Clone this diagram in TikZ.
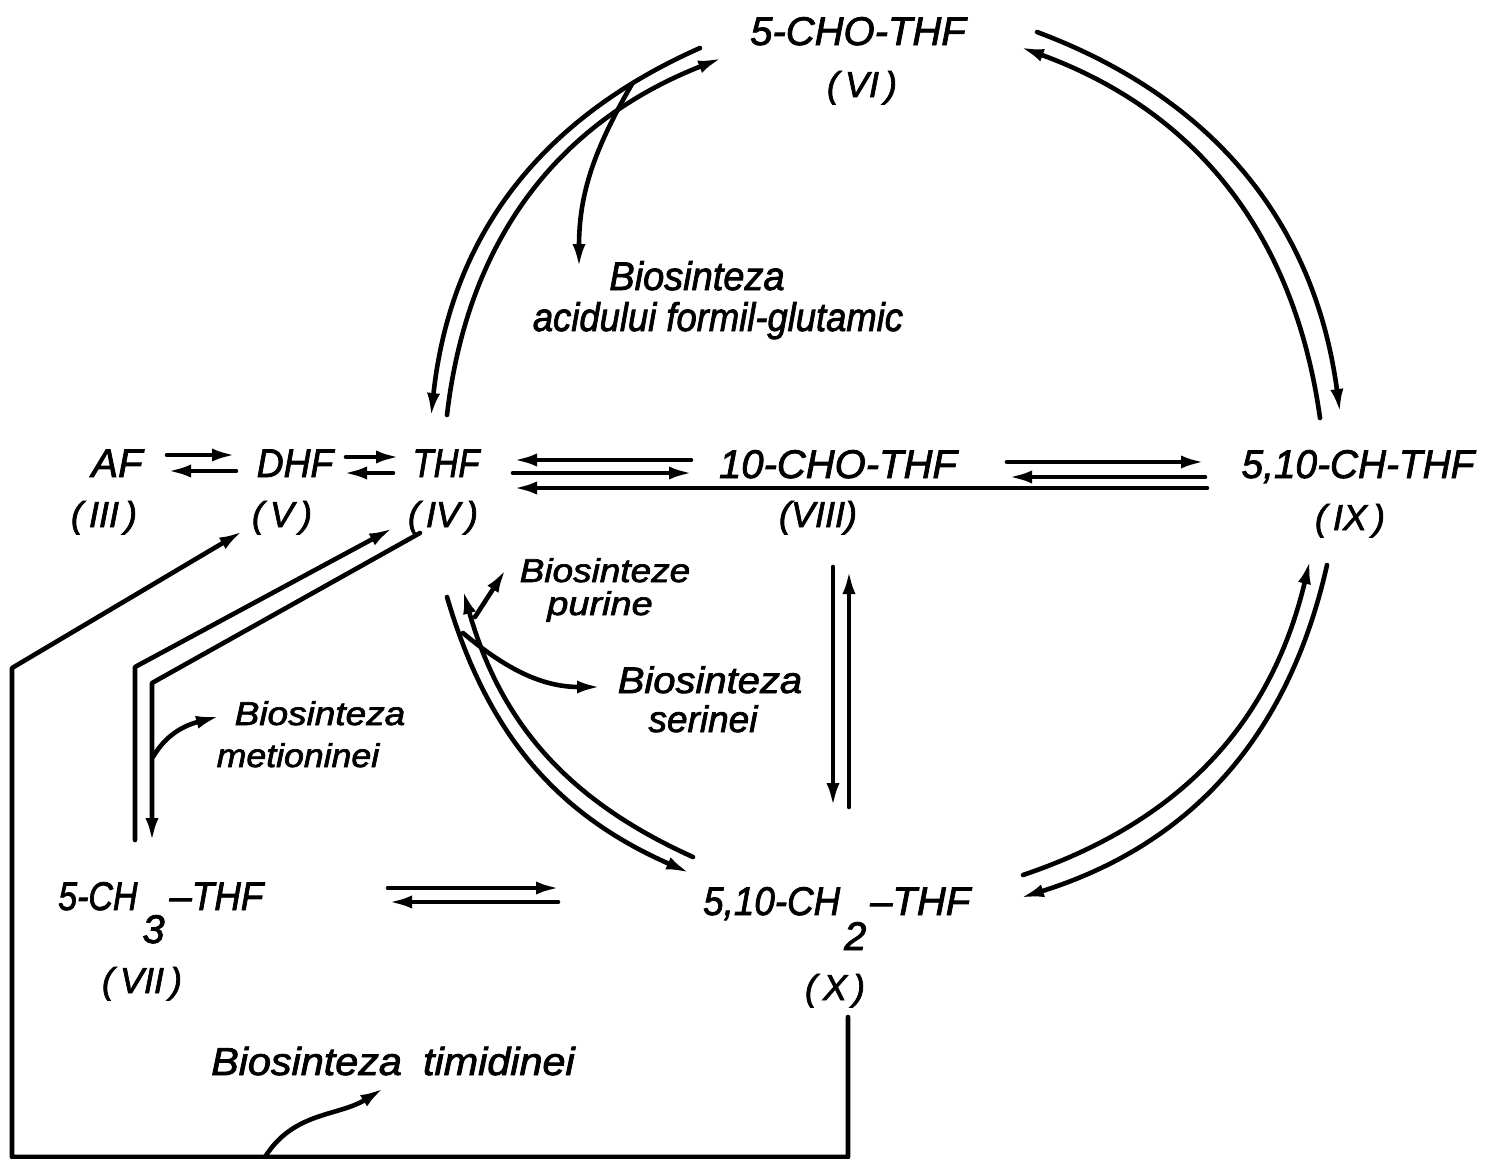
\documentclass[tikz,border=0pt]{standalone}
\usepackage{fontspec}
\usepackage{graphicx}
\setmainfont{Liberation Sans}[ItalicFeatures={FakeBold=2}]
\usetikzlibrary{arrows.meta}
\newcommand\sqz[2]{\scalebox{#1}[1]{#2}}
\begin{document}
\begin{tikzpicture}[x=1pt,y=-1pt,
  ln/.style={line width=4.6pt, line cap=round, line join=round},
  arr/.style={ln, -{Latex[length=24pt,width=13pt]}},
  big/.style={font=\fontsize{40}{44}\selectfont\itshape, inner sep=0pt, anchor=base},
  num/.style={font=\fontsize{36}{40}\selectfont\itshape, inner sep=0pt, anchor=base},
  note/.style={inner sep=0pt, anchor=base}]
\useasboundingbox[fill=white] (0,0) rectangle (1502,1159);

% ---------- compound labels ----------
\node[big] (choTHF) at (858,45) {5-CHO-THF};
\node[num] (nVI) at (862,97) {(\,VI\,)};
\node[big] (AF) at (117,477) {AF};
\node[num] (nIII) at (104,527) {(\,III\,)};
\node[big] (DHF) at (295,477) {\sqz{0.93}{DHF}};
\node[num] (nV) at (282,527) {(\,V\,)};
\node[big] (THF) at (446,477) {\sqz{0.86}{THF}};
\node[num] (nIV) at (443,527) {(\,IV\,)};
\node[big] (tenCHO) at (838,478) {10-CHO-THF};
\node[num] (nVIII) at (818,527) {(VIII)};
\node[big] (chTHF) at (1358,478) {\sqz{0.97}{5,10-CH-THF}};
\node[num] (nIX) at (1350,530) {(\,IX\,)};
\node[big, anchor=base west] (methyl) at (58,910)
  {\sqz{0.85}{5-CH}\makebox[32pt]{\raisebox{-33pt}{3}}–\sqz{0.92}{THF}};
\node[num] (nVII) at (142,993) {(\,VII\,)};
\node[big, anchor=base west] (methylene) at (703,915)
  {\sqz{0.92}{5,10-CH}\makebox[30pt]{\raisebox{-35pt}{2}}–THF};
\node[num] (nX) at (835,1000) {(\,X\,)};

% ---------- pathway notes ----------
\node[note, font=\fontsize{40}{44}\selectfont\itshape] (formA) at (697,290) {\sqz{0.95}{Biosinteza}};
\node[note, font=\fontsize{40}{44}\selectfont\itshape] (formB) at (718,331) {\sqz{0.91}{acidului formil-glutamic}};
\node[note, font=\fontsize{33}{36}\selectfont\itshape] (purA) at (605,582) {\sqz{1.12}{Biosinteze}};
\node[note, font=\fontsize{33}{36}\selectfont\itshape] (purB) at (600,615) {\sqz{1.15}{purine}};
\node[note, font=\fontsize{37}{40}\selectfont\itshape] (serA) at (710,693) {\sqz{1.08}{Biosinteza}};
\node[note, font=\fontsize{37}{40}\selectfont\itshape] (serB) at (703,732) {serinei};
\node[note, font=\fontsize{33}{36}\selectfont\itshape] (metA) at (320,725) {\sqz{1.12}{Biosinteza}};
\node[note, font=\fontsize{33}{36}\selectfont\itshape] (metB) at (298,767) {\sqz{1.08}{metioninei}};
\node[note, font=\fontsize{39}{42}\selectfont\itshape] (timA) at (393,1075) {\sqz{1.06}{Biosinteza\hspace{20pt}timidinei}};

% ---------- horizontal equilibria ----------
\coordinate (a1) at (167,455); \coordinate (a2) at (236,455);
\coordinate (a3) at (236,471); \coordinate (a4) at (167,471);
\draw[arr] (a1) -- (a2);
\draw[arr] (a3) -- (a4);
\coordinate (b1) at (346,457); \coordinate (b2) at (400,457);
\coordinate (b3) at (393,473); \coordinate (b4) at (343,473);
\draw[arr] (b1) -- (b2);
\draw[arr] (b3) -- (b4);
\coordinate (c1) at (691,460); \coordinate (c2) at (513,460);
\coordinate (c3) at (513,473); \coordinate (c4) at (693,473);
\coordinate (c5) at (1207,488); \coordinate (c6) at (513,488);
\draw[arr] (c1) -- (c2);
\draw[arr] (c3) -- (c4);
\draw[arr] (c5) -- (c6);
\coordinate (d1) at (1007,462); \coordinate (d2) at (1205,462);
\coordinate (d3) at (1205,477); \coordinate (d4) at (1008,477);
\draw[arr] (d1) -- (d2);
\draw[arr] (d3) -- (d4);
\coordinate (e1) at (388,888); \coordinate (e2) at (560,888);
\coordinate (e3) at (558,902); \coordinate (e4) at (388,902);
\draw[arr] (e1) -- (e2);
\draw[arr] (e3) -- (e4);

% ---------- vertical equilibrium ----------
\coordinate (v1) at (833,567); \coordinate (v2) at (833,807);
\coordinate (v3) at (849,807); \coordinate (v4) at (849,570);
\draw[arr] (v1) -- (v2);
\draw[arr] (v3) -- (v4);

% ---------- circle arcs ----------
% top left: 5-CHO-THF <-> THF
\coordinate (tl1) at (700,48);  \coordinate (tl2) at (431,417);
\coordinate (tl3) at (447,415); \coordinate (tl4) at (722,58);
\draw[arr] (tl1) to[bend right=30] (tl2);
\draw[arr] (tl3) to[bend left=31] (tl4);
% branch to formil-glutamic
\coordinate (fb1) at (632,84); \coordinate (fb2) at (579,268);
\draw[arr] (fb1) to[out=-120,in=90] (fb2);
% top right: 5-CHO-THF <-> 5,10-CH-THF
\coordinate (tr1) at (1037,32);  \coordinate (tr2) at (1340,413);
\coordinate (tr3) at (1320,418); \coordinate (tr4) at (1020,47);
\draw[arr] (tr1) to[bend left=31] (tr2);
\draw[arr] (tr3) to[bend right=31] (tr4);
% bottom right: 5,10-CH-THF <-> 5,10-CH2-THF
\coordinate (br1) at (1023,875); \coordinate (br2) at (1310,560);
\coordinate (br3) at (1327,565); \coordinate (br4) at (1020,898);
\draw[arr] (br1) to[bend right=29] (br2);
\draw[arr] (br3) to[bend left=30] (br4);
% bottom left: THF <-> 5,10-CH2-THF
\coordinate (bl1) at (447,597); \coordinate (bl2) at (690,873);
\coordinate (bl3) at (693,857); \coordinate (bl4) at (463,590);
\draw[arr] (bl1) to[bend right=25] (bl2);
\draw[arr] (bl3) to[bend left=25] (bl4);
% branches to purine and serine
\coordinate (pb1) at (475,617); \coordinate (pb2) at (506,569);
\draw[arr] (pb1) -- (pb2);
\coordinate (sb1) at (463,633); \coordinate (sb2) at (601,687);
\draw[arr] (sb1) to[out=-40,in=180] (sb2);

% ---------- THF <-> 5-CH3-THF ----------
\coordinate (m1) at (135,840); \coordinate (m2) at (135,667); \coordinate (m3) at (393,528);
\draw[arr] (m1) -- (m2) -- (m3);
\coordinate (m4) at (420,533); \coordinate (m5) at (152,683); \coordinate (m6) at (152,842);
\draw[arr] (m4) -- (m5) -- (m6);
\coordinate (mb1) at (153,757); \coordinate (mb2) at (220,716);
\draw[arr] (mb1) to[out=60,in=195] (mb2);

% ---------- 5,10-CH2-THF -> DHF (thymidine) ----------
\coordinate (t1) at (848,1017); \coordinate (t2) at (848,1157);
\coordinate (t3) at (12,1157);  \coordinate (t4) at (12,668);
\coordinate (t5) at (243,531);
\draw[arr] (t1) -- (t2) -- (t3) -- (t4) -- (t5);
\coordinate (tb1) at (265,1157); \coordinate (tb2) at (384,1088);
\draw[arr] (tb1) to[out=58,in=212] (tb2);
\end{tikzpicture}
\end{document}
